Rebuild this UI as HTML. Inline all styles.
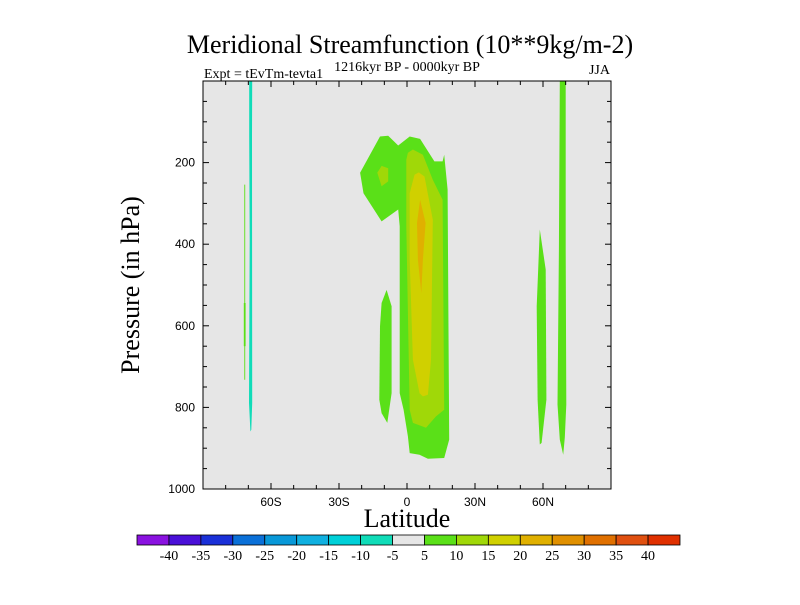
<!DOCTYPE html>
<html><head><meta charset="utf-8"><style>
body{margin:0;background:#fff;}
svg text{font-family:"Liberation Serif",serif;}
</style></head><body>
<svg width="800" height="600" xmlns="http://www.w3.org/2000/svg">
<text x="410" y="53" font-size="26" text-anchor="middle">Meridional Streamfunction (10**9kg/m-2)</text>
<text x="204" y="78" font-size="14">Expt = tEvTm-tevta1</text>
<text x="407" y="71" font-size="14" text-anchor="middle">1216kyr BP - 0000kyr BP</text>
<text x="610" y="74" font-size="14" text-anchor="end">JJA</text>
<text x="0" y="0" font-size="26" text-anchor="middle" transform="translate(139,285) rotate(-90)">Pressure (in hPa)</text>
<text x="407" y="527" font-size="26" text-anchor="middle">Latitude</text>
<rect x="203" y="81" width="408" height="408" fill="#e6e6e6"/>
<g id="fills"></g>
<rect x="203" y="81" width="408" height="408" fill="none" stroke="#000" stroke-width="1"/>
<g id="ticks"></g>
<g id="cbar"></g>
</svg>
<script>
const xTicks=[-60,-30,0,30,60];
const xTickLabels=["60S","30S","0","30N","60N"];
const yTicks=[200,400,600,800,1000];
const levelLabels=["-40","-35","-30","-25","-20","-15","-10","-5","5","10","15","20","25","30","35","40"];
const levelColors=["#8a12e0","#4a10d8","#1a30d8","#0a70d8","#0898d8","#10b0e0","#00d0d8","#10dcb8","#e6e6e6","#5ae018","#a0d808","#d0d000","#e0b000","#e09000","#e07000","#e05010","#e03000"];
const shapeLevels=[9,9,9,9,7,9,9,10,10,11,12];
const shapeWideLeftBar=[[-69.6,0],[-68.3,0],[-68.4,136],[-68.3,789],[-68.7,855],[-69.1,859],[-69.7,789],[-69.4,389],[-69.6,136]];
const shapeMainOuter=[[-20.7,225],[-11.9,136],[-8.3,134],[-3.9,158],[1.2,136],[5.8,142],[12.1,197],[15.7,197],[16.4,181],[17.9,266],[18.6,879],[16.4,924],[9.2,926],[5.5,916],[1.2,912],[0.4,871],[-1.5,806],[-3.2,765],[-3.2,356],[-3.9,315],[-11.2,344],[-19.2,275]];
const shapeLeftIsland=[[-11.2,544],[-9,512],[-6.8,552],[-6.8,765],[-8.7,838],[-11.2,814],[-12.2,781],[-11.9,601]];
const shape60N=[[57.6,781],[57.2,552],[58.6,364],[61.2,462],[61.5,781],[59.4,887],[58.6,891]];
const shape70N=[[67.4,0],[70,0],[70,413],[70.3,793],[69.6,874],[68.9,916],[67.4,879],[66.4,793],[67,413]];
const shapeThinLeft=[[-71.8,254],[-71.4,254],[-71.4,732],[-71.8,732]];
const shapeThinLeft2=[[-72.0,544],[-71.2,544],[-71.2,650],[-72.0,650]];
const shapeInner10=[[0.4,176],[2.6,168],[7,181],[11.4,242],[15.7,291],[16.4,806],[12.8,822],[8.4,850],[2.6,838],[1.2,806],[-0.3,356],[-0.3,193]];
const shapeBlob10=[[-13.1,225],[-11.2,208],[-8.3,214],[-8.3,246],[-11.2,258]];
const shapeInner15=[[3.3,230],[5.2,224],[7.7,234],[11.4,340],[10.6,683],[9.2,769],[7,773],[5.5,765],[2.6,683],[1.2,438],[1.2,275]];
const shapeInner20=[[5.8,291],[8.2,348],[7,438],[6.3,520],[4.8,438],[4.4,348]];
const shapes=[shapeMainOuter,shapeLeftIsland,shape60N,shape70N,shapeWideLeftBar,shapeThinLeft,shapeThinLeft2,shapeInner10,shapeBlob10,shapeInner15,shapeInner20];
const shapeNames=["main-cell-5","left-island-5","cell-60n-5","bar-70n-5","bar-70s-neg5","thin-line-72s","thin-patch-72s","main-cell-10","blob-10","main-cell-15","main-cell-20"];
const X=lat=>203+(lat+90)/180*408;
const Y=p=>81+p/1000*408;
const NS="http://www.w3.org/2000/svg";
const fills=document.getElementById('fills');
shapes.forEach((s,i)=>{
 const el=document.createElementNS(NS,'polygon');
 el.setAttribute('points',s.map(d=>X(d[0]).toFixed(1)+','+Y(d[1]).toFixed(1)).join(' '));
 el.setAttribute('fill',levelColors[shapeLevels[i]]);
 
 
 fills.appendChild(el);
});
const tk=document.getElementById('ticks');
function line(x1,y1,x2,y2){const l=document.createElementNS(NS,'line');l.setAttribute('x1',x1);l.setAttribute('y1',y1);l.setAttribute('x2',x2);l.setAttribute('y2',y2);l.setAttribute('stroke','#000');tk.appendChild(l);}
for(let lat=-80;lat<=80;lat+=10){const maj=lat%30===0;const L=maj?6:4;line(X(lat),489,X(lat),489-L);line(X(lat),81,X(lat),81+L);}
for(let p=50;p<1000;p+=50){const maj=p%200===0;const L=maj?6:4;line(203,Y(p),203+L,Y(p));line(611,Y(p),611-L,Y(p));}
xTicks.forEach((v,i)=>{const t=document.createElementNS(NS,'text');t.setAttribute('x',X(v));t.setAttribute('y',506);t.setAttribute('font-size','12');t.setAttribute('text-anchor','middle');t.setAttribute('style','font-family:"Liberation Sans",sans-serif');t.textContent=xTickLabels[i];


tk.appendChild(t);});
yTicks.forEach(v=>{const t=document.createElementNS(NS,'text');t.setAttribute('x',195);t.setAttribute('y',Y(v)+4);t.setAttribute('font-size','12');t.setAttribute('text-anchor','end');t.setAttribute('style','font-family:"Liberation Sans",sans-serif');t.textContent=v;


tk.appendChild(t);});
const cb=document.getElementById('cbar');
const bw=543/levelColors.length;
levelColors.forEach((c,i)=>{const r=document.createElementNS(NS,'rect');r.setAttribute('x',137+i*bw);r.setAttribute('y',535);r.setAttribute('width',bw);r.setAttribute('height',10);r.setAttribute('fill',c);r.setAttribute('stroke','#000');r.setAttribute('stroke-width','0.8');


cb.appendChild(r);});
levelLabels.forEach((s,i)=>{const t=document.createElementNS(NS,'text');t.setAttribute('x',137+(i+1)*bw);t.setAttribute('y',560);t.setAttribute('font-size','14');t.setAttribute('text-anchor','middle');t.textContent=s;


cb.appendChild(t);});
</script>
</body></html>
